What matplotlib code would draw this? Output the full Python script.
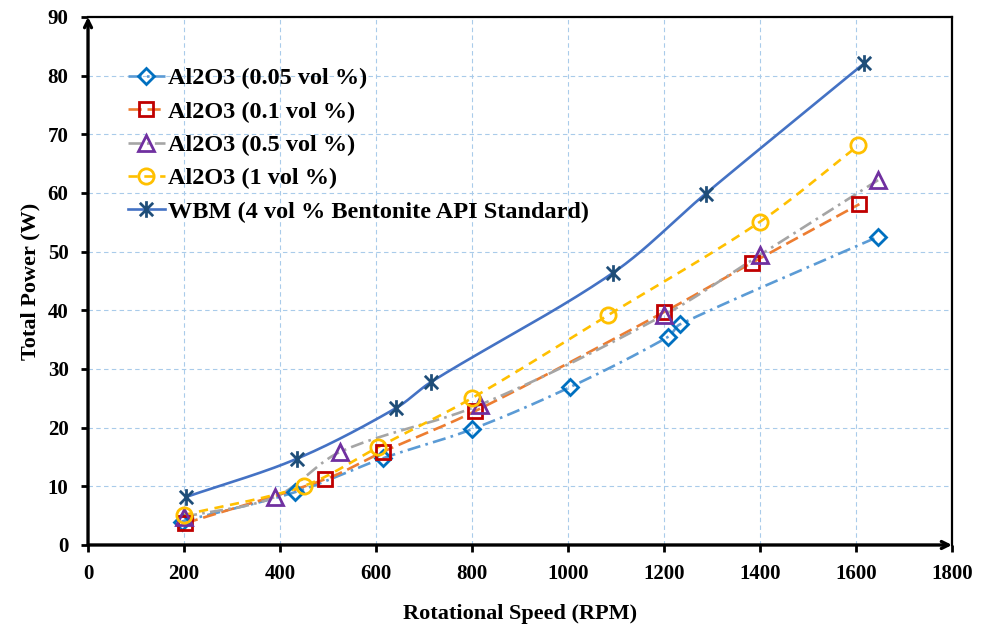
"""Total power vs rotational speed for Al2O3 nanofluids and base WBM."""

import matplotlib
matplotlib.use('Agg')
import matplotlib.pyplot as plt
import numpy as np
from matplotlib.lines import Line2D
from matplotlib.path import Path

plt.rcParams['font.family'] = 'Liberation Serif'
plt.rcParams['font.weight'] = 'bold'

# Measured points (RPM, W)
AL_005_RPM = [195, 431, 615, 799, 1004, 1209, 1233, 1645]
AL_005_W = [4.0, 9.0, 14.8, 19.7, 26.9, 35.5, 37.6, 52.5]

AL_01_RPM = [202, 494, 615, 806, 1200, 1383, 1607]
AL_01_W = [3.7, 11.2, 15.9, 22.8, 39.7, 48.1, 58.1]

AL_05_RPM = [200, 390, 526, 817, 1200, 1399, 1646]
AL_05_W = [4.8, 8.2, 15.9, 23.9, 39.2, 49.4, 62.2]

AL_1_RPM = [199, 449, 605, 799, 1084, 1400, 1605]
AL_1_W = [5.1, 10.05, 16.7, 25.0, 39.2, 55.1, 68.1]

WBM_RPM = [205, 435, 641, 715, 1094, 1287, 1617]
WBM_W = [8.2, 14.7, 23.3, 27.8, 46.4, 59.9, 82.1]

LABELS = [
    "Al2O3 (0.05 vol %)",
    "Al2O3 (0.1 vol %)",
    "Al2O3 (0.5 vol %)",
    "Al2O3 (1 vol %)",
    "WBM (4 vol % Bentonite API Standard)",
]

XMAX, YMAX = 1800, 90

# x plus vertical bar, like the spreadsheet "star" marker
STAR = Path(
    [(0, -1), (0, 1), (-0.8, -0.8), (0.8, 0.8), (-0.8, 0.8), (0.8, -0.8)],
    [Path.MOVETO, Path.LINETO] * 3,
)

STYLES = [
    dict(color='#5B9BD5', ls=(0, (5, 2, 1, 2)), marker='D', mec='#0070C0', ms=8.5),
    dict(color='#ED7D31', ls=(0, (5, 2.2)), marker='s', mec='#C00000', ms=10),
    dict(color='#A5A5A5', ls=(0, (5, 2, 1, 2)), marker='^', mec='#7030A0', ms=11),
    dict(color='#FFC000', ls=(0, (3.5, 2.5)), marker='o', mec='#FFC000', ms=11),
    dict(color='#4472C4', ls='-', marker=STAR, mec='#1F4E79', ms=12),
]


def smooth(x, y, n=25, aspect=(864 / XMAX, 528 / YMAX)):
    """Smoothed curve through the points, tangents scaled by chord length
    (worked out in screen-like units so uneven spacing doesn't kink)."""
    sx, sy = aspect
    pts = np.column_stack([np.asarray(x) * sx, np.asarray(y) * sy]).astype(float)
    p = np.vstack([pts[0], pts, pts[-1]])
    t = np.linspace(0, 1, n)[:, None]
    out = []
    for i in range(1, len(p) - 2):
        p0, p1, p2, p3 = p[i - 1], p[i], p[i + 1], p[i + 2]
        seg_len = np.linalg.norm(p2 - p1)
        d1 = np.linalg.norm(p1 - p0) + seg_len
        d2 = seg_len + np.linalg.norm(p3 - p2)
        c1 = p1 + (p2 - p0) / d1 * seg_len / 3
        c2 = p2 - (p3 - p1) / d2 * seg_len / 3
        seg = (1 - t) ** 3 * p1 + 3 * (1 - t) ** 2 * t * c1 + 3 * (1 - t) * t ** 2 * c2 + t ** 3 * p2
        out.append(seg if i == 1 else seg[1:])
    curve = np.vstack(out)
    return curve[:, 0] / sx, curve[:, 1] / sy


fig = plt.figure(figsize=(9.89, 6.27), dpi=100)
ax = fig.add_axes([0.089, 0.1308, 0.8736, 0.8421])

series = [
    (AL_005_RPM, AL_005_W),
    (AL_01_RPM, AL_01_W),
    (AL_05_RPM, AL_05_W),
    (AL_1_RPM, AL_1_W),
    (WBM_RPM, WBM_W),
]

handles = []
for (x, y), st, label in zip(series, STYLES, LABELS):
    cx, cy = smooth(x, y)
    ax.plot(cx, cy, color=st['color'], ls=st['ls'], lw=1.9, zorder=3)
    ax.plot(x, y, ls='none', marker=st['marker'], ms=st['ms'], mfc='none',
            mec=st['mec'], mew=2.0, zorder=4)
    handles.append(Line2D([], [], color=st['color'], ls=st['ls'], lw=1.9,
                          marker=st['marker'], ms=st['ms'], mfc='none',
                          mec=st['mec'], mew=2.0))

ax.set_xlim(0, XMAX)
ax.set_ylim(0, YMAX)
ax.set_xticks(np.arange(0, XMAX + 1, 200))
ax.set_yticks(np.arange(0, YMAX + 1, 10))
ax.grid(True, color='#A9CBEA', ls=(0, (4, 3)), lw=0.8)
ax.set_axisbelow(True)

ax.tick_params(direction='out', length=5, width=2, pad=9, labelsize=15)
for lbl in ax.get_xticklabels() + ax.get_yticklabels():
    lbl.set_fontweight('bold')

# left/bottom axes drawn as arrows, top/right as a thin frame
ax.spines['left'].set_visible(False)
ax.spines['bottom'].set_visible(False)
ax.spines['top'].set_linewidth(1.6)
ax.spines['right'].set_linewidth(1.6)
arrow = dict(arrowstyle='->,head_length=0.5,head_width=0.25', lw=2.4,
             color='black', shrinkA=0, shrinkB=0)
ax.annotate('', xy=(0, 1.0), xytext=(0, 0), xycoords='axes fraction',
            arrowprops=arrow, annotation_clip=False)
ax.annotate('', xy=(1.0, 0), xytext=(0, 0), xycoords='axes fraction',
            arrowprops=arrow, annotation_clip=False)

ax.set_xlabel('Rotational Speed (RPM)', fontsize=16, fontweight='bold', labelpad=14)
ax.set_ylabel('Total Power (W)', fontsize=16, fontweight='bold', labelpad=5)

ax.legend(handles, LABELS, loc='upper left', bbox_to_anchor=(0.046, 0.905),
          frameon=False, prop={'size': 17.5, 'weight': 'bold'}, handlelength=1.52,
          handletextpad=0.12, labelspacing=0.47, borderaxespad=0, borderpad=0)

fig.savefig('out.png', dpi=100)
